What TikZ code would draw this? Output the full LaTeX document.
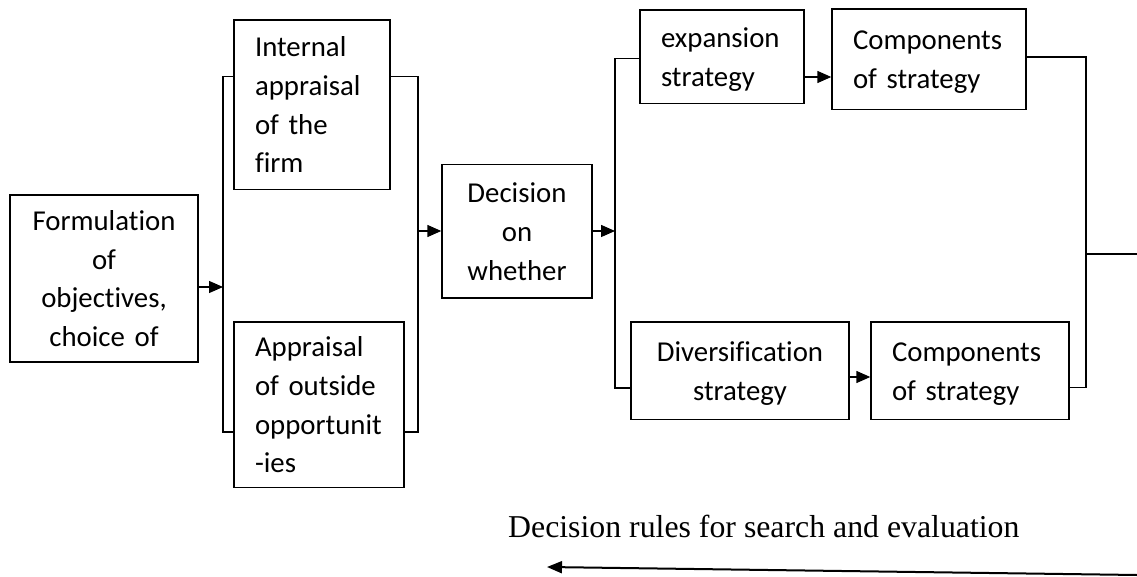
\documentclass[tikz,border=0pt]{standalone}
\usepackage{fontspec}
\setmainfont{Liberation Serif}
\newfontfamily\carlito[Ligatures=NoCommon]{Carlito}
\usetikzlibrary{arrows.meta}
\newcommand{\bxs}{\rule[-8pt]{0pt}{36pt}}
\begin{document}
\begin{tikzpicture}[x=1pt,y=-1pt,
  box/.style={draw, line width=1.4pt, inner ysep=0pt, inner xsep=21pt,
    font=\carlito\fontsize{28.8}{38.8}\selectfont},
  lbox/.style={box, align=left},
  cbox/.style={box, align=center, inner xsep=8pt},
  conn/.style={line width=1.4pt},
  arr/.style={line width=1.4pt, -{Triangle[length=14pt,width=12pt]}}]
\useasboundingbox (0,0) rectangle (1137,577);
\fill[white] (0,0) rectangle (1137,577);

% boxes
\node[cbox, text width=172pt, minimum width=188pt, minimum height=167pt] (form) at (104,278.5)
  {\bxs Formulation\\of\\objectives,\\choice of\bxs};
\node[lbox, text width=114pt, minimum width=156pt, minimum height=169.5pt] (int) at (312,104.75)
  {\bxs Internal\\appraisal\\of the\\firm\bxs};
\node[lbox, text width=128pt, minimum width=170pt, minimum height=165.5pt] (app) at (319,404.75)
  {\bxs Appraisal\\of outside\\opportunit\\-ies\bxs};
\node[cbox, text width=134pt, minimum width=150pt, minimum height=133.5pt] (dec) at (517,231.25)
  {\bxs Decision\\on\\whether\bxs};
\node[lbox, text width=122pt, minimum width=164pt, minimum height=93.4pt] (exp) at (722,56.7)
  {\bxs expansion\\strategy\bxs};
\node[lbox, text width=152pt, minimum width=194pt, minimum height=100.7pt] (c1) at (929,59.35)
  {\bxs Components\\of strategy\bxs};
\node[cbox, text width=202pt, minimum width=218pt, minimum height=97.5pt] (div) at (740,370.75)
  {\bxs Diversification\\strategy\bxs};
\node[lbox, text width=156pt, minimum width=198pt, minimum height=97.5pt] (c2) at (970,370.75)
  {\bxs Components\\of strategy\bxs};

% coordinates
\coordinate (b1m) at (223,287);
\coordinate (b1t) at (223,76.5);
\coordinate (b1b) at (223,432);
\coordinate (b1rt) at (418,76.5);
\coordinate (b1rb) at (418,432);
\coordinate (b1rm) at (418,231);
\coordinate (b2m) at (615,231);
\coordinate (b2t) at (615,58.5);
\coordinate (b2b) at (615,388);
\coordinate (a1) at (818,77);
\coordinate (a2) at (860,377);
\coordinate (b3t) at (1086,57);
\coordinate (b3b) at (1086,387.5);
\coordinate (b3m) at (1086,254);
\coordinate (outR) at (1137,254);
\coordinate (fbS) at (1137,575);
\coordinate (fbE) at (547,567);

% connectors
\draw[arr] (form.east |- b1m) -- (b1m);
\draw[conn] (int.west |- b1t) -| (b1b) -- (app.west |- b1b);
\draw[conn] (int.east |- b1rt) -| (b1rb) -- (app.east |- b1rb);
\draw[arr] (b1rm) -- (dec.west |- b1rm);
\draw[arr] (dec.east |- b2m) -- (b2m);
\draw[conn] (exp.west |- b2t) -| (b2b) -- (div.west |- b2b);
\draw[arr] (exp.east |- a1) -- (c1.west |- a1);
\draw[arr] (div.east |- a2) -- (c2.west |- a2);
\draw[conn] (c1.east |- b3t) -| (b3b) -- (c2.east |- b3b);
\draw[conn] (b3m) -- (outR);

% bottom label and arrow
\node[anchor=base west, inner sep=0pt, font=\fontsize{31.8}{36}\selectfont] (rules) at (508,537)
  {Decision rules for search and evaluation};
\draw[line width=2pt, -{Triangle[length=15pt,width=12pt]}] (fbS) -- (fbE);
\end{tikzpicture}
\end{document}
